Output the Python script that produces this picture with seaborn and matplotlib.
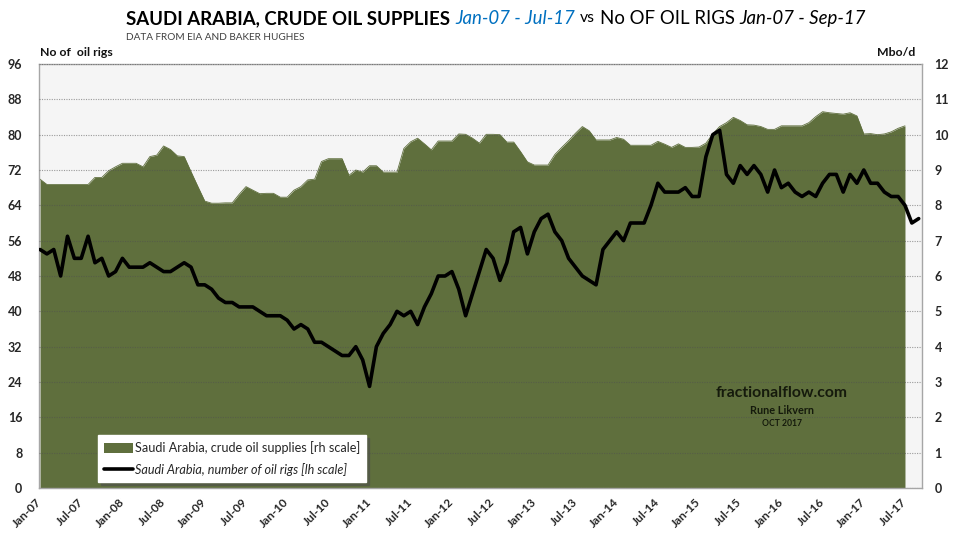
import numpy as np
import pandas as pd
import matplotlib
matplotlib.use("Agg")
import matplotlib.pyplot as plt
import seaborn as sns
from matplotlib.patches import Patch
from matplotlib.lines import Line2D

# ---------------- data ----------------
months = pd.date_range("2007-01-01", "2017-09-01", freq="MS")
month_labels = [d.strftime("%b-%y") for d in months]

# number of oil rigs, Jan-07 .. Sep-17 (left scale)
rigs = [54, 53, 54, 48, 57, 52, 52, 57, 51, 52, 48, 49,
        52, 50, 50, 50, 51, 50, 49, 49, 50, 51, 50, 46,
        46, 45, 43, 42, 42, 41, 41, 41, 40, 39, 39, 39,
        38, 36, 37, 36, 33, 33, 32, 31, 30, 30, 32, 29,
        23, 32, 35, 37, 40, 39, 40, 37, 41, 44, 48, 48,
        49, 45, 39, 44, 49, 54, 52, 47, 51, 58, 59, 53,
        58, 61, 62, 58, 56, 52, 50, 48, 47, 46, 54, 56,
        58, 56, 60, 60, 60, 64, 69, 67, 67, 67, 68, 66,
        66, 75, 80, 81, 71, 69, 73, 71, 73, 71, 67, 72,
        68, 69, 67, 66, 67, 66, 69, 71, 71, 67, 71, 69,
        72, 69, 69, 67, 66, 66, 64, 60, 61]

# crude oil supplies, Mbo/d, Jan-07 .. Jul-17 (right scale)
supply = [8.74, 8.59, 8.59, 8.59, 8.59, 8.59, 8.59, 8.59, 8.79, 8.79, 8.98, 9.09,
          9.19, 9.19, 9.19, 9.09, 9.38, 9.42, 9.68, 9.58, 9.40, 9.38, 8.95, 8.53,
          8.12, 8.06, 8.06, 8.07, 8.07, 8.31, 8.53, 8.43, 8.33, 8.34, 8.34, 8.23,
          8.23, 8.43, 8.53, 8.72, 8.74, 9.24, 9.32, 9.32, 9.32, 8.85, 9.00, 8.94,
          9.12, 9.12, 8.94, 8.94, 8.94, 9.61, 9.80, 9.90, 9.74, 9.57, 9.82, 9.82,
          9.82, 10.02, 10.01, 9.90, 9.76, 10.01, 10.01, 10.00, 9.79, 9.79, 9.52, 9.23,
          9.14, 9.14, 9.14, 9.44, 9.64, 9.83, 10.04, 10.23, 10.11, 9.85, 9.85, 9.85,
          9.92, 9.87, 9.70, 9.70, 9.70, 9.70, 9.81, 9.73, 9.64, 9.74, 9.64, 9.64,
          9.65, 9.76, 10.02, 10.23, 10.34, 10.49, 10.40, 10.28, 10.27, 10.23, 10.15, 10.15,
          10.25, 10.25, 10.25, 10.25, 10.34, 10.51, 10.65, 10.62, 10.60, 10.58, 10.62, 10.53,
          10.02, 10.03, 10.00, 10.02, 10.08, 10.18, 10.25]

rig_ticks = list(range(0, 97, 8))
supply_ticks = list(range(0, 13))
xtick_idx = list(range(0, 127, 6))

GREEN = "#5f6f3d"
BLUE = "#0070C0"

# ---------------- figure ----------------
sns.set_theme(style="white")
plt.rcParams["font.family"] = ["Lato", "DejaVu Sans"]

W, H = 960, 540
fig = plt.figure(figsize=(9.6, 5.4), dpi=100)
ax = fig.add_axes([39 / W, 52 / H, 883 / W, 424 / H])
ax.set_facecolor("#f5f5f5")

df_s = pd.DataFrame({"idx": np.arange(len(supply)), "supply": supply})
df_r = pd.DataFrame({"idx": np.arange(len(rigs)), "rigs": rigs})

ax.fill_between(df_s["idx"], 0, df_s["supply"], color=GREEN, lw=0, zorder=1)
sns.lineplot(data=df_s, x="idx", y="supply", ax=ax, color=GREEN, lw=0.6, zorder=1.2)
ax.set_ylim(0, 12)
ax.set_xlim(-0.15, 128.48)

ax2 = ax.twinx()
sns.lineplot(data=df_r, x="idx", y="rigs", ax=ax2, color="black", lw=2.6)
ax2.set_ylim(0, 96)
ax2.patch.set_visible(False)

# grid
ax.set_axisbelow(False)
ax.grid(axis="y", color="#505050", alpha=0.55, ls=(0, (1, 1.2)), lw=0.8)
ax.grid(axis="x", visible=False)

# y axes: right = supply, left = rigs
ax.yaxis.tick_right()
ax.set_yticks(supply_ticks)
ax.set_yticklabels([str(v) for v in supply_ticks], fontsize=9, fontweight="bold")
ax.tick_params(axis="y", length=0, pad=9)

ax2.yaxis.tick_left()
ax2.yaxis.set_label_position("left")
ax2.set_yticks(rig_ticks)
ax2.set_yticklabels([str(v) for v in rig_ticks], fontsize=9, fontweight="bold")
ax2.tick_params(axis="y", length=0, pad=12)

ax.set_xticks(xtick_idx)
ax.set_xticklabels([month_labels[i] for i in xtick_idx], rotation=45, ha="right",
                   va="center", rotation_mode="anchor", fontsize=8.6, fontweight="bold")
ax.tick_params(axis="x", length=0, pad=9)

for a in (ax, ax2):
    a.set_xlabel("")
    a.set_ylabel("")
for s in ax.spines.values():
    s.set_color("#a6a6a6")
    s.set_linewidth(1)
for s in ax2.spines.values():
    s.set_visible(False)

# axis captions
fig.text(40 / W, 1 - 53 / H, "No of  oil rigs", fontsize=8.8, fontweight="bold",
         ha="left", va="center", color="#111111")
fig.text(915 / W, 1 - 53 / H, "Mbo/d", fontsize=8.8, fontweight="bold",
         ha="right", va="center", color="#111111")
fig.text(126 / W, 1 - 38 / H, "DATA FROM EIA AND BAKER HUGHES", fontsize=7.2,
         ha="left", va="center", color="#404040")

# watermark
fig.text(782 / W, 1 - 393 / H, "fractionalflow.com", fontsize=11.3, fontweight="bold",
         ha="center", va="center", color="#151a0c")
fig.text(782 / W, 1 - 411 / H, "Rune Likvern", fontsize=7.8, fontweight="bold",
         ha="center", va="center", color="#151a0c")
fig.text(782 / W, 1 - 424 / H, "OCT 2017", fontsize=6.2, fontweight="bold",
         ha="center", va="center", color="#151a0c")

# legend
handles = [Patch(facecolor=GREEN, edgecolor="none"),
           Line2D([0], [0], color="black", lw=2.6)]
labels = ["Saudi Arabia, crude oil supplies [rh scale]",
          "Saudi Arabia, number of oil rigs [lh scale]"]
leg = fig.legend(handles, labels, loc="lower left", bbox_to_anchor=(98 / W, 58 / H),
                 bbox_transform=fig.transFigure, frameon=True, fancybox=False,
                 shadow=True, framealpha=1, edgecolor="white", facecolor="white",
                 fontsize=9.1, handlelength=2.3, handleheight=0.9, handletextpad=0.1,
                 borderpad=0.5, labelspacing=0.65, borderaxespad=0)
leg.get_texts()[1].set_fontstyle("italic")

# title built from styled runs
parts = [
    ("SAUDI ARABIA, CRUDE OIL SUPPLIES", dict(fontweight="bold", color="black"), 1.0),
    ("Jan-07 - Jul-17", dict(fontstyle="italic", color=BLUE), 1.0),
    ("vs", dict(color="black"), 0.85),
    ("No OF OIL RIGS", dict(color="black"), 1.0),
    ("Jan-07 - Sep-17", dict(fontstyle="italic", color="black"), 1.0),
]
x0, x1, yc = 126, 868, 18.5
base = 14.0
fig.canvas.draw()
rend = fig.canvas.get_renderer()
objs = []
for s, kw, rel in parts:
    t = fig.text(x0 / W, 1 - yc / H, s, fontsize=base * rel, ha="left", va="center", **kw)
    objs.append((t, rel))

def layout(size):
    xs = x0
    for t, rel in objs:
        t.set_fontsize(size * rel)
        t.set_x(xs / W)
        w = t.get_window_extent(rend).width
        xs += w + size * 1.389 * 0.27
    return xs - size * 1.389 * 0.27

end = layout(base)
size = base * (x1 - x0) / (end - x0)
layout(size)

fig.savefig("out.png", dpi=100)
